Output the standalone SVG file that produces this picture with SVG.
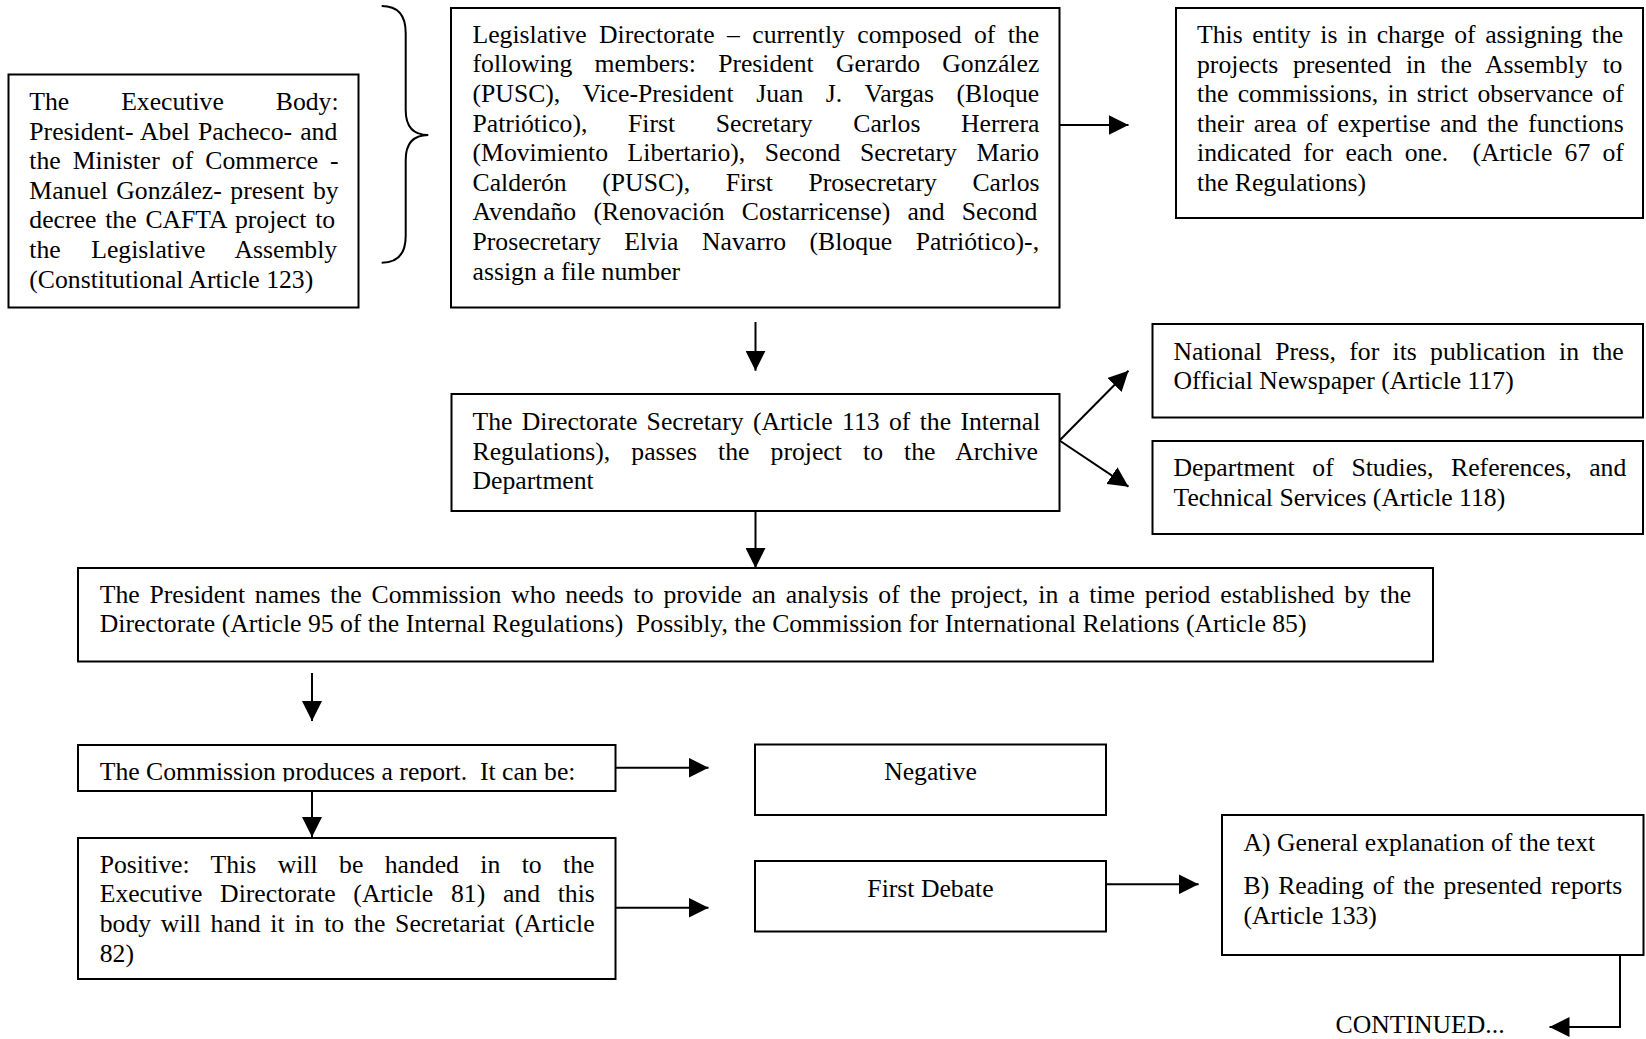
<svg xmlns="http://www.w3.org/2000/svg" width="1646" height="1039" viewBox="0 0 1646 1039">
<style>
.box{fill:#fff;stroke:#000;stroke-width:2}
.t{font-family:"Liberation Serif","Times New Roman",serif;font-size:25.7px;fill:#000;white-space:pre}
.m{text-anchor:middle}
.c{stroke:#000;stroke-width:2;fill:none}
.a{marker-end:url(#ah)}
</style>
<defs>
<marker id="ah" markerUnits="userSpaceOnUse" markerWidth="20" markerHeight="20" refX="20" refY="10" orient="auto" viewBox="0 0 20 20">
<path d="M0,0 L20,10 L0,20 Z" fill="#000"/>
</marker>
<clipPath id="clipComm"><rect x="78" y="745" width="538" height="36.5"/></clipPath>
</defs>
<rect width="1646" height="1039" fill="#fff"/>

<g id="connectors">
<path class="c" d="M381.7,6 Q405.7,6 405.7,33 L405.7,110 Q405.7,135 428.3,135 Q405.7,135 405.7,160 L405.7,236 Q405.7,262.7 381.7,262.7"/>
<line class="c a" x1="1059.5" y1="125" x2="1128.5" y2="125"/>
<line class="c a" x1="755.5" y1="322" x2="755.5" y2="370.7"/>
<line class="c a" x1="1059.5" y1="440.5" x2="1128.5" y2="370.7"/>
<line class="c a" x1="1059.5" y1="440.5" x2="1128.5" y2="486.7"/>
<line class="c a" x1="755.5" y1="511" x2="755.5" y2="568"/>
<line class="c a" x1="312" y1="673" x2="312" y2="721"/>
<line class="c a" x1="312" y1="791" x2="312" y2="837"/>
<line class="c a" x1="615.5" y1="767.7" x2="708.5" y2="767.7"/>
<line class="c a" x1="615.5" y1="907.7" x2="708.5" y2="907.7"/>
<line class="c a" x1="1106" y1="884.3" x2="1198.6" y2="884.3"/>
<polyline class="c a" points="1620,955 1620,1027 1549.5,1027"/>
</g>

<g id="n-executive">
<rect class="box" x="8.5" y="74.5" width="350" height="233"/>
<text class="t" x="29.3" y="110" word-spacing="45.5">The Executive Body:</text>
<text class="t" x="29.3" y="139.6" word-spacing="1.6">President- Abel Pacheco- and</text>
<text class="t" x="29.3" y="169.2" word-spacing="5.65">the Minister of Commerce -</text>
<text class="t" x="29.3" y="198.8" word-spacing="2.07">Manuel González- present by</text>
<text class="t" x="29.3" y="228.4" word-spacing="2.43">decree the CAFTA project to</text>
<text class="t" x="29.3" y="258" word-spacing="24.1">the Legislative Assembly</text>
<text class="t" x="29.3" y="287.6">(Constitutional Article 123)</text>
</g>

<g id="n-legislative">
<rect class="box" x="451" y="8" width="608.5" height="299.5"/>
<text class="t" x="472.5" y="42.7" word-spacing="5.99">Legislative Directorate – currently composed of the</text>
<text class="t" x="472.5" y="72.3" word-spacing="15.8">following members: President Gerardo González</text>
<text class="t" x="472.5" y="101.9" word-spacing="16.2">(PUSC), Vice-President Juan J. Vargas (Bloque</text>
<text class="t" x="472.5" y="131.5" word-spacing="34.2">Patriótico), First Secretary Carlos Herrera</text>
<text class="t" x="472.5" y="161.1" word-spacing="13.1">(Movimiento Libertario), Second Secretary Mario</text>
<text class="t" x="472.5" y="190.7" word-spacing="29.2">Calderón (PUSC), First Prosecretary Carlos</text>
<text class="t" x="472.5" y="220.3" word-spacing="10.8">Avendaño (Renovación Costarricense) and Second</text>
<text class="t" x="472.5" y="249.9" word-spacing="17.0">Prosecretary Elvia Navarro (Bloque Patriótico)-,</text>
<text class="t" x="472.5" y="279.5">assign a file number</text>
</g>

<g id="n-entity">
<rect class="box" x="1176" y="8" width="467" height="210"/>
<text class="t" x="1197" y="43" word-spacing="3.17">This entity is in charge of assigning the</text>
<text class="t" x="1197" y="72.5" word-spacing="8.17">projects presented in the Assembly to</text>
<text class="t" x="1197" y="102" word-spacing="2.88">the commissions, in strict observance of</text>
<text class="t" x="1197" y="131.6" word-spacing="3.36">their area of expertise and the functions</text>
<text class="t" x="1197" y="161.2" word-spacing="5.75">indicated for each one.  (Article 67 of</text>
<text class="t" x="1197" y="190.8">the Regulations)</text>
</g>

<g id="n-secretary">
<rect class="box" x="451.5" y="394" width="608" height="117"/>
<text class="t" x="472.5" y="430" word-spacing="2.9">The Directorate Secretary (Article 113 of the Internal</text>
<text class="t" x="472.5" y="459.6" word-spacing="14.7">Regulations), passes the project to the Archive</text>
<text class="t" x="472.5" y="489.2">Department</text>
</g>

<g id="n-press">
<rect class="box" x="1152.5" y="324" width="490.5" height="93.5"/>
<text class="t" x="1173.5" y="359.5" word-spacing="6.9">National Press, for its publication in the</text>
<text class="t" x="1173.5" y="389">Official Newspaper (Article 117)</text>
</g>

<g id="n-department">
<rect class="box" x="1152.5" y="441" width="490.5" height="93"/>
<text class="t" x="1173.5" y="476" word-spacing="11.2">Department of Studies, References, and</text>
<text class="t" x="1173.5" y="505.5">Technical Services (Article 118)</text>
</g>

<g id="n-president">
<rect class="box" x="78" y="568" width="1355" height="93.5"/>
<text class="t" x="99.7" y="602.5" word-spacing="3.4">The President names the Commission who needs to provide an analysis of the project, in a time period established by the</text>
<text class="t" x="99.7" y="632">Directorate (Article 95 of the Internal Regulations)  Possibly, the Commission for International Relations (Article 85)</text>
</g>

<g id="n-commission">
<rect class="box" x="78" y="745" width="537.5" height="46"/>
<text class="t" x="99.7" y="780" clip-path="url(#clipComm)">The Commission produces a report.  It can be:</text>
</g>

<g id="n-negative">
<rect class="box" x="755" y="744.5" width="351" height="70.5"/>
<text class="t m" x="930.5" y="780">Negative</text>
</g>

<g id="n-positive">
<rect class="box" x="78" y="838" width="537.5" height="141"/>
<text class="t" x="99.7" y="872.8" word-spacing="15.0">Positive: This will be handed in to the</text>
<text class="t" x="99.7" y="902.4" word-spacing="11.3">Executive Directorate (Article 81) and this</text>
<text class="t" x="99.7" y="932.2" word-spacing="3.37">body will hand it in to the Secretariat (Article</text>
<text class="t" x="99.7" y="962">82)</text>
</g>

<g id="n-firstdebate">
<rect class="box" x="755" y="861" width="351" height="70.5"/>
<text class="t m" x="930.5" y="896.7">First Debate</text>
</g>

<g id="n-reading">
<rect class="box" x="1222" y="815" width="421.5" height="140"/>
<text class="t" x="1243.5" y="850.5">A) General explanation of the text</text>
<text class="t" x="1243.5" y="894" word-spacing="2.57">B) Reading of the presented reports</text>
<text class="t" x="1243.5" y="923.6">(Article 133)</text>
</g>

<g id="n-continued">
<text class="t" x="1335.5" y="1032.5">CONTINUED...</text>
</g>
</svg>
